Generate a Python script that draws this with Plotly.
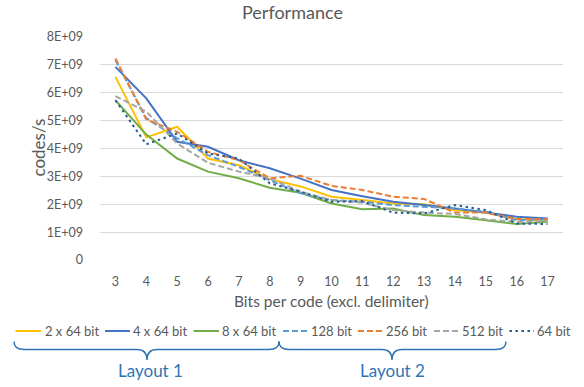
import plotly.graph_objects as go

bits = [3, 4, 5, 6, 7, 8, 9, 10, 11, 12, 13, 14, 15, 16, 17]
s_2x64 = [6.57, 4.40, 4.78, 3.64, 3.40, 2.90, 2.64, 2.27, 2.15, 2.03, 2.00, 1.79, 1.70, 1.46, 1.43]
s_4x64 = [6.93, 5.80, 4.24, 4.06, 3.58, 3.29, 2.92, 2.51, 2.29, 2.09, 1.97, 1.85, 1.70, 1.55, 1.49]
s_8x64 = [5.73, 4.50, 3.64, 3.17, 2.93, 2.59, 2.41, 2.03, 1.82, 1.85, 1.61, 1.55, 1.43, 1.29, 1.37]
s_128 = [7.17, 5.09, 4.37, 3.76, 3.34, 2.87, 2.39, 2.15, 2.09, 1.97, 1.91, 1.85, 1.73, 1.43, 1.46]
s_256 = [7.23, 5.04, 4.60, 3.88, 3.58, 2.93, 3.02, 2.66, 2.51, 2.27, 2.19, 1.70, 1.70, 1.47, 1.46]
s_512 = [5.88, 5.32, 4.18, 3.49, 3.17, 2.93, 2.45, 2.15, 2.05, 1.79, 1.70, 1.65, 1.46, 1.37, 1.40]
s_64 = [5.73, 4.15, 4.54, 3.82, 3.64, 2.75, 2.45, 2.09, 2.11, 1.70, 1.67, 1.97, 1.79, 1.31, 1.29]

names = ["2 x 64 bit", "4 x 64 bit", "8 x 64 bit", "128 bit", "256 bit", "512 bit", "64 bit"]
series = [s_2x64, s_4x64, s_8x64, s_128, s_256, s_512, s_64]
colors = ["#FFC000", "#4472C4", "#70AD47", "#5B9BD5", "#ED7D31", "#A5A5A5", "#255E91"]
dashes = ["solid", "solid", "solid", "6px,3px", "6px,3px", "6px,3px", "2.5px,3.5px"]

y_ticks = [0, 1, 2, 3, 4, 5, 6, 7, 8]
y_labels = ["0", "1E+09", "2E+09", "3E+09", "4E+09", "5E+09", "6E+09", "7E+09", "8E+09"]
groups = ["Layout 1", "Layout 2"]

FONT = "Lato"
GREY = "#595959"
BRACE = "#2E75B6"

W, H = 584, 387
L, R, T, B = 100, 21, 37, 127
PW, PH = W - L - R, H - T - B


def px(p):
    return (p - L) / PW


def py(p):
    return (H - B - p) / PH


fig = go.Figure()
for name, vals, col, dsh in zip(names, series, colors, dashes):
    fig.add_trace(go.Scatter(x=bits, y=vals, name=name, mode="lines",
                             line=dict(color=col, width=2, dash=dsh),
                             showlegend=False))

shapes = []
annotations = []

# manual legend (line start, line end, text start) in pixels
leg_pos = [(15.5, 41, 42.5), (105, 130, 131), (193.5, 219, 220), (283, 307, 309),
           (358, 382, 384), (434, 458, 460), (509.5, 534, 535)]
ly = 331
for (x0, x1, xt), name, col, dsh in zip(leg_pos, names, colors, dashes):
    shapes.append(dict(type="line", xref="paper", yref="paper",
                       x0=px(x0), x1=px(x1), y0=py(ly), y1=py(ly),
                       line=dict(color=col, width=2, dash=dsh)))
    annotations.append(dict(xref="paper", yref="paper", x=px(xt), y=py(ly),
                            xanchor="left", yanchor="middle", showarrow=False,
                            text=name, font=dict(family=FONT, size=13, color=GREY)))


def brace(xa, xb, xm, ytop=341.5, ymid=349.5, ytip=360):
    r = 10
    pts = [
        f"M {px(xa)},{py(ytop)}",
        f"Q {px(xa)},{py(ymid)} {px(xa + r)},{py(ymid)}",
        f"L {px(xm - r)},{py(ymid)}",
        f"Q {px(xm)},{py(ymid)} {px(xm)},{py(ytip)}",
        f"Q {px(xm)},{py(ymid)} {px(xm + r)},{py(ymid)}",
        f"L {px(xb - r)},{py(ymid)}",
        f"Q {px(xb)},{py(ymid)} {px(xb)},{py(ytop)}",
    ]
    return dict(type="path", xref="paper", yref="paper", path=" ".join(pts),
                line=dict(color=BRACE, width=1.5))


shapes.append(brace(14, 279, 147))
shapes.append(brace(279, 506, 392))
for g, xc in zip(groups, [150, 392]):
    annotations.append(dict(xref="paper", yref="paper", x=px(xc), y=py(370),
                            xanchor="center", yanchor="middle", showarrow=False,
                            text=g, font=dict(family=FONT, size=17, color=BRACE)))

# titles
annotations.append(dict(xref="paper", yref="paper", x=px(292), y=py(12),
                        xanchor="center", yanchor="middle", showarrow=False,
                        text="Performance", font=dict(family=FONT, size=18, color=GREY)))
annotations.append(dict(xref="paper", yref="paper", x=px(331), y=py(301),
                        xanchor="center", yanchor="middle", showarrow=False,
                        text="Bits per code (excl. delimiter)",
                        font=dict(family=FONT, size=15.5, color=GREY)))
annotations.append(dict(xref="paper", yref="paper", x=px(37.5), y=py(148),
                        xanchor="center", yanchor="middle", showarrow=False, textangle=-90,
                        text="codes/s", font=dict(family=FONT, size=17, color=GREY)))

fig.update_layout(
    width=W, height=H,
    margin=dict(l=L, r=R, t=T, b=B, pad=0),
    paper_bgcolor="white", plot_bgcolor="white",
    showlegend=False,
    shapes=shapes, annotations=annotations,
    xaxis=dict(range=[2.5, 17.5], tickmode="array", tickvals=bits,
               ticktext=[str(b) for b in bits], showgrid=False, zeroline=False,
               showline=False, ticks="", ticklabelstandoff=12,
               tickfont=dict(family=FONT, size=12.5, color=GREY), fixedrange=True),
    yaxis=dict(range=[0, 8], tickmode="array", tickvals=y_ticks, ticktext=y_labels,
               showgrid=True, gridcolor="#D9D9D9", gridwidth=1, zeroline=False,
               showline=False, ticks="", ticklabelstandoff=16,
               tickfont=dict(family=FONT, size=12.5, color=GREY), fixedrange=True),
)

fig.write_html("out.html")
